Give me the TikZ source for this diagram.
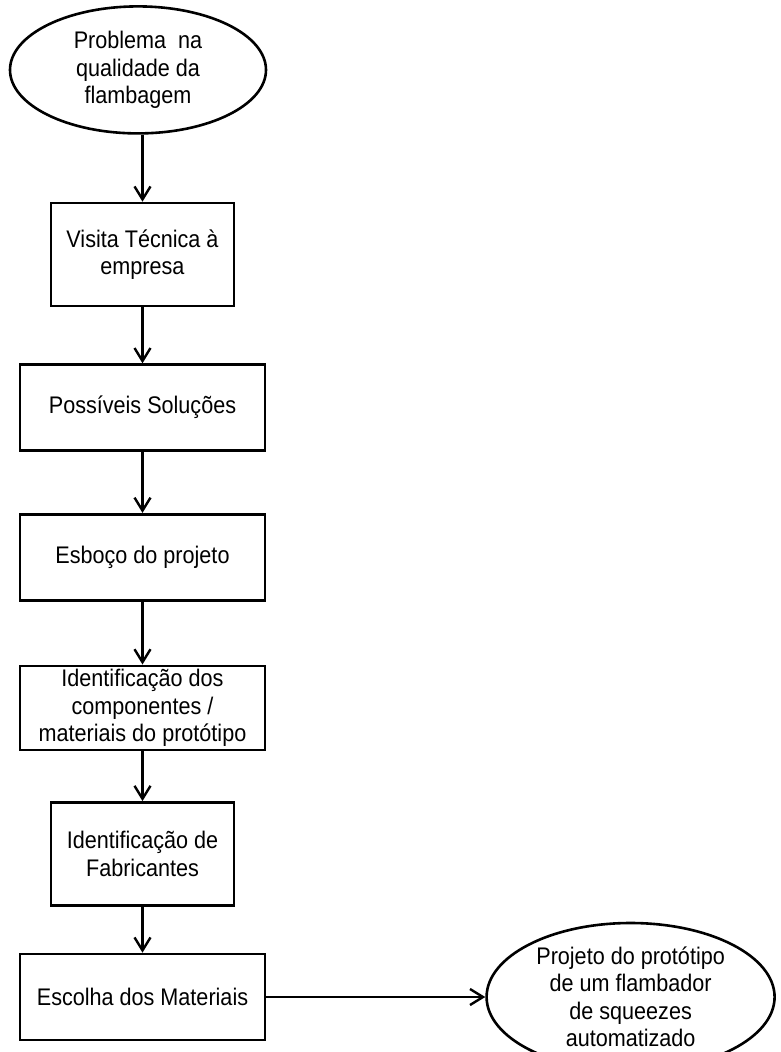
\documentclass[tikz,border=0pt]{standalone}
\usepackage{fontspec}
\setmainfont{Liberation Sans}[FakeStretch=0.9]
\usetikzlibrary{positioning,arrows.meta,shapes.geometric}

\begin{document}
\begin{tikzpicture}[
		x=1pt, y=-1pt,
		font=\fontsize{24}{27.5}\selectfont,
		box/.style={draw, line width=2.6pt, align=center, inner xsep=2pt,
				inner ysep=0pt, minimum height=86pt, minimum width=245pt},
		narrow/.style={box, minimum width=183pt, minimum height=103pt},
		term/.style={draw, ellipse, line width=2.6pt, align=center, inner sep=0pt},
		arr/.style={-{Straight Barb[length=13pt, width=16pt]}, line width=2.4pt}
		]
		\useasboundingbox (0,0) rectangle (781,1052);
		\node[narrow] (visita) at (142.5,254.5) {Visita Técnica à\\ empresa};
		\node[term, above=67pt of visita, xshift=-4.5pt, minimum width=256pt,
			minimum height=127pt] (problema)
		{Problema~ na\\ qualidade da\\ flambagem};
		\node[box, below=56pt of visita] (solucoes) {Possíveis Soluções};
		\node[box, below=61pt of solucoes] (esboco) {Esboço do projeto};
		\node[box, below=63pt of esboco, minimum height=84pt] (componentes)
		{Identificação dos\\ componentes /\\ materiais do protótipo};
		\node[narrow, below=50pt of componentes] (fabricantes)
		{Identificação de\\ Fabricantes};
		\node[box, below=46pt of fabricantes] (escolha) {Escolha dos Materiais};
		\node[term, right=219pt of escolha, minimum width=288pt,
			minimum height=148pt, inner ysep=-12pt] (prototipo)
		{Projeto do protótipo\\ de um flambador\\ de squeezes\\ automatizado};
		\draw[arr] (problema.south -| visita.north) -- (visita.north);
		\draw[arr] (visita) -- (solucoes);
		\draw[arr] (solucoes) -- (esboco);
		\draw[arr] (esboco) -- (componentes);
		\draw[arr] (componentes) -- (fabricantes);
		\draw[arr] (fabricantes) -- (escolha);
		\draw[arr] (escolha) -- (prototipo);
	\end{tikzpicture}
\end{document}
